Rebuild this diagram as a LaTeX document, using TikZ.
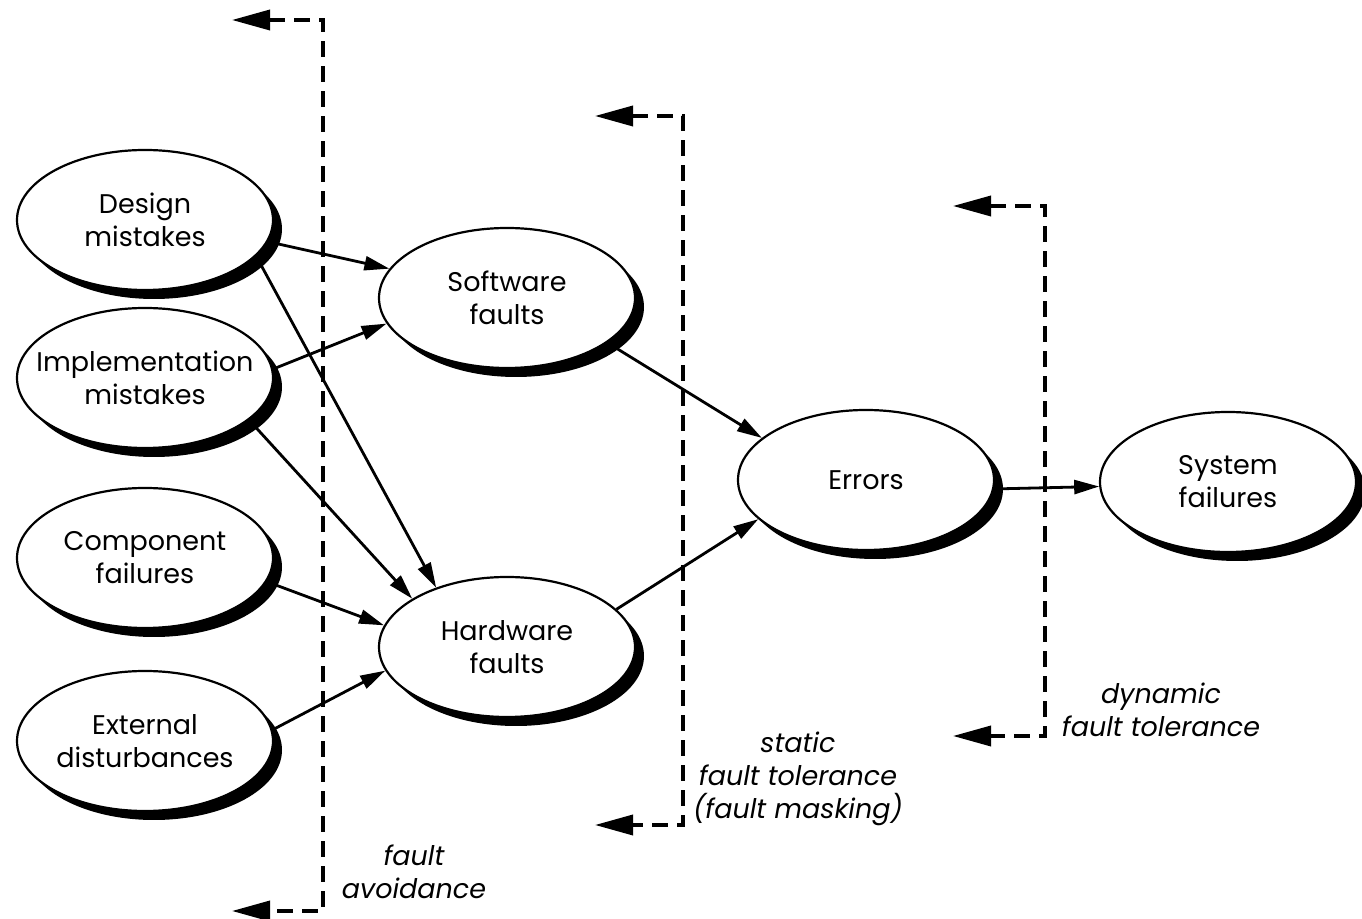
\documentclass[tikz,border=0pt]{standalone}
\usepackage{fontspec}
\setmainfont{Poppins}
\usetikzlibrary{arrows.meta,shapes.geometric,shadows}
\begin{document}
\begin{tikzpicture}[x=0.5pt,y=-0.5pt,
  ell/.style={ellipse, draw=black, line width=1.1pt, fill=white,
    minimum width=128pt, minimum height=70pt, inner ysep=0pt, inner xsep=-25pt, align=center,
    font=\fontsize{13.5}{16.5}\selectfont,
    drop shadow={shadow xshift=4.5pt, shadow yshift=-4.5pt, fill=black, opacity=1}},
  arr/.style={line width=1.4pt, -{Triangle[length=12.5pt,width=7pt]}},
  dasharr/.style={line width=1.8pt, dash pattern=on 8pt off 4.5pt,
    {Triangle[length=19pt,width=10pt]}-{Triangle[length=19pt,width=10pt]}},
  lbl/.style={align=center, font=\fontsize{13.5}{16.5}\selectfont\itshape}]
\useasboundingbox (0,0) rectangle (1362,919);

% dashed brackets
\coordinate (avT) at (232,20);
\coordinate (avTC) at (323,20);
\coordinate (avBC) at (323,911);
\coordinate (avB) at (232,911);
\draw[dasharr] (avT) -- (avTC) -- (avBC) -- (avB);

\coordinate (stT) at (595,116);
\coordinate (stTC) at (683,116);
\coordinate (stBC) at (683,825);
\coordinate (stB) at (595,825);
\draw[dasharr] (stT) -- (stTC) -- (stBC) -- (stB);

\coordinate (dyT) at (953,206);
\coordinate (dyTC) at (1045,206);
\coordinate (dyBC) at (1045,736);
\coordinate (dyB) at (953,736);
\draw[dasharr] (dyT) -- (dyTC) -- (dyBC) -- (dyB);

% nodes
\node[ell] (des) at (145,220) {Design\\mistakes};
\node[ell] (imp) at (145,378) {Implementation\\mistakes};
\node[ell] (com) at (145,558) {Component\\failures};
\node[ell] (ext) at (145,741) {External\\disturbances};
\node[ell] (sof) at (507,298) {Software\\faults};
\node[ell] (har) at (507,647) {Hardware\\faults};
\node[ell] (err) at (866,480) {Errors};
\node[ell] (sys) at (1228,482) {System\\failures};

% labels
\node[lbl] (lav) at (414,872) {fault\\avoidance};
\node[lbl] (lst) at (798,779) {static\\fault tolerance\\(fault masking)};
\node[lbl] (ldy) at (1161,710) {dynamic\\fault tolerance};

% arrows
\draw[arr] (des.-10) -- (sof.166);
\draw[arr] (des.-18) -- (har.140);
\draw[arr] (imp.4) -- (sof.-168);
\draw[arr] (imp.-22) -- (har.153);
\draw[arr] (com.-11) -- (har.170);
\draw[arr] (ext.5) -- (har.-169);
\draw[arr] (sof.-24) -- (err.158);
\draw[arr] (har.19) -- (err.-160);
\draw[arr] (err.-4) -- (sys.182);
\end{tikzpicture}
\end{document}
